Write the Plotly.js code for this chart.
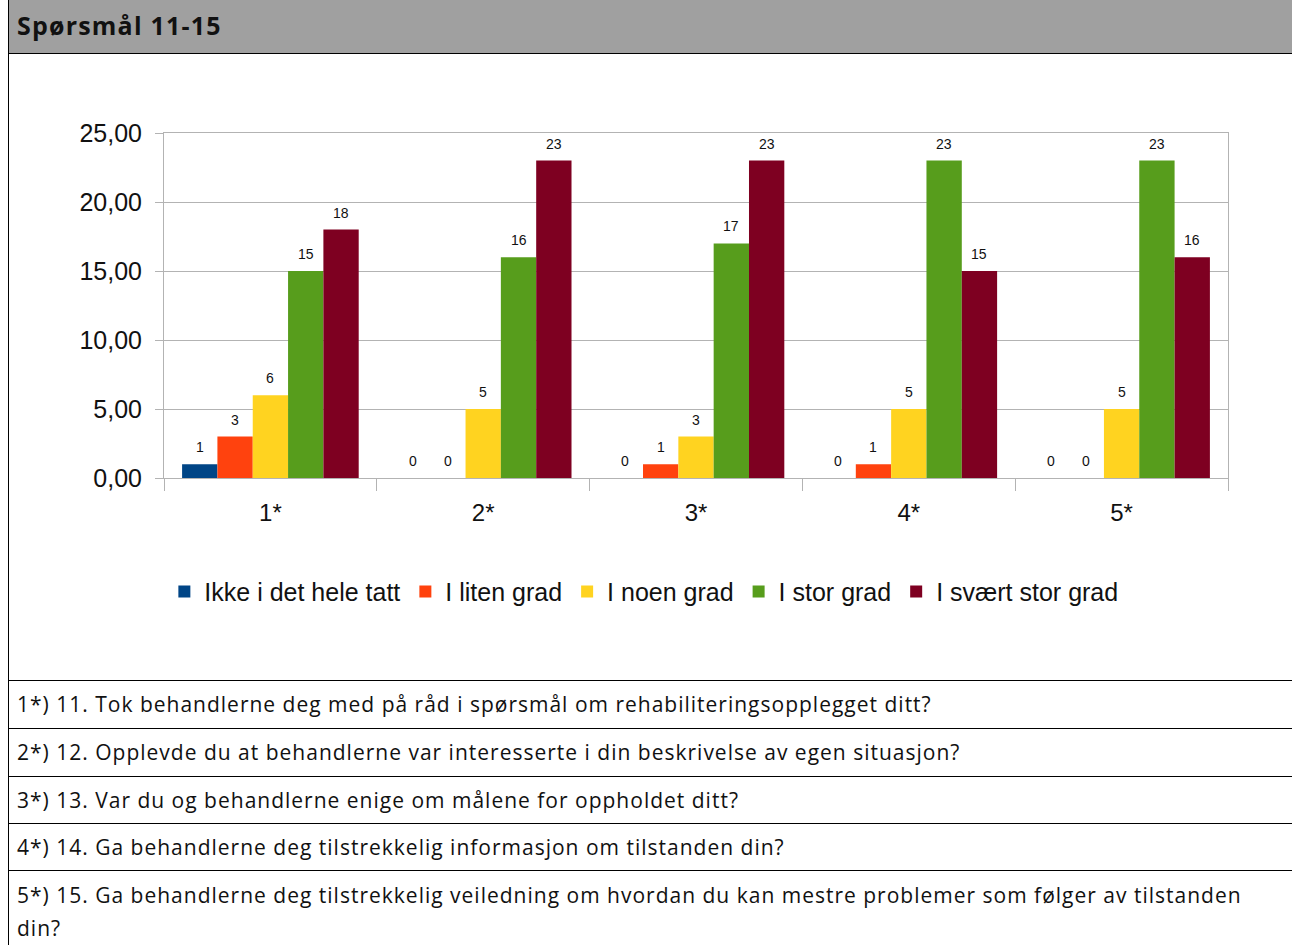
<!DOCTYPE html>
<html>
<head>
<meta charset="utf-8">
<script src="https://cdn.plot.ly/plotly-3.0.1.min.js"></script>
<style>
  html, body { margin:0; padding:0; background:#fff; }
  #page { position:relative; width:1292px; height:945px; overflow:hidden; font-family: "Open Sans", Lato, sans-serif; }
  #leftline { position:absolute; left:8px; top:0; width:1px; height:945px; background:#000; }
  #header { position:absolute; left:9px; top:0; width:1283px; height:53px; background:#a0a0a0; border-bottom:1px solid #000; }
  #header span { position:absolute; left:8px; top:8px; font-weight:bold; font-size:25px; letter-spacing:1.2px; color:#111; }
  #chart { position:absolute; left:9px; top:55px; width:1283px; height:625px; }
  .row { position:absolute; left:9px; width:1283px; border-top:1px solid #000; font-size:21px; letter-spacing:1px; color:#111; }
  .row span { position:absolute; left:8px; line-height:33px; white-space:nowrap; }
</style>
</head>
<body>
<div id="page">
  <div id="header"><span id="ttl"></span></div>
  <div id="chart"></div>
  <div id="rows"></div>
  <div id="leftline"></div>
</div>
<script>
const headerTitle = "Spørsmål 11-15";
const categories = ["1*", "2*", "3*", "4*", "5*"];
const seriesNames = ["Ikke i det hele tatt", "I liten grad", "I noen grad", "I stor grad", "I svært stor grad"];
const ikkeIDetHeleTatt = [1, 0, 0, 0, 0];
const iLitenGrad = [3, 0, 1, 1, 0];
const iNoenGrad = [6, 5, 3, 5, 5];
const iStorGrad = [15, 16, 17, 23, 23];
const iSvaertStorGrad = [18, 23, 23, 15, 16];
const seriesColors = ["#004586", "#ff420e", "#ffd320", "#579d1c", "#7e0021"];
const questions = [
  "1*) 11. Tok behandlerne deg med på råd i spørsmål om rehabiliteringsopplegget ditt?",
  "2*) 12. Opplevde du at behandlerne var interesserte i din beskrivelse av egen situasjon?",
  "3*) 13. Var du og behandlerne enige om målene for oppholdet ditt?",
  "4*) 14. Ga behandlerne deg tilstrekkelig informasjon om tilstanden din?",
  "5*) 15. Ga behandlerne deg tilstrekkelig veiledning om hvordan du kan mestre problemer som følger av tilstanden<br>din?"
];

document.getElementById("ttl").textContent = headerTitle;

const rowTops = [680, 728, 776, 823, 870];
const rowsDiv = document.getElementById("rows");
questions.forEach((q, i) => {
  const d = document.createElement("div");
  d.className = "row";
  d.style.top = rowTops[i] + "px";
  d.style.height = (i < 4 ? rowTops[i+1] - rowTops[i] : 945 - rowTops[i]) + "px";
  const s = document.createElement("span");
  s.style.top = (i < 4 ? 7 : 8) + "px";
  s.innerHTML = q;
  d.appendChild(s);
  rowsDiv.appendChild(d);
});

const allValues = [ikkeIDetHeleTatt, iLitenGrad, iNoenGrad, iStorGrad, iSvaertStorGrad];
const traces = allValues.map((vals, i) => ({
  type: "bar",
  name: seriesNames[i],
  x: categories,
  y: vals,
  marker: { color: seriesColors[i] },
  hoverinfo: "skip"
}));

const plotW = 1064;
const bargap = 0.17;
const barPx = plotW / categories.length * (1 - bargap) / allValues.length;
const annotations = [];
allValues.forEach((vals, i) => {
  vals.forEach((v, j) => {
    annotations.push({
      x: categories[j], y: v, xref: "x", yref: "y",
      text: String(v), showarrow: false,
      xshift: (i - (allValues.length - 1) / 2) * barPx,
      yshift: 17, yanchor: "middle",
      font: { family: "Liberation Sans, Arial, sans-serif", size: 14, color: "#111" }
    });
  });
});

const layout = {
  width: 1283,
  height: 625,
  margin: { l: 155, r: 64, t: 78, b: 202 },
  paper_bgcolor: "rgba(0,0,0,0)",
  plot_bgcolor: "#fff",
  separators: ", ",
  barmode: "group",
  bargap: bargap,
  bargroupgap: 0,
  font: { family: "Liberation Sans, Arial, sans-serif", color: "#111" },
  showlegend: true,
  annotations: annotations,
  legend: {
    orientation: "h",
    x: 0.451, xanchor: "center",
    y: -0.33, yanchor: "middle",
    font: { size: 25, family: "Liberation Sans, Arial, sans-serif", color: "#111" },
    itemwidth: 30,
    traceorder: "normal"
  },
  xaxis: {
    type: "category",
    tickson: "boundaries",
    ticks: "outside",
    ticklen: 12,
    tickcolor: "#b3b3b3",
    showline: true,
    linecolor: "#b3b3b3",
    mirror: true,
    tickfont: { size: 24, color: "#111" },
    ticklabelstandoff: 13,
    showgrid: false,
    fixedrange: true
  },
  yaxis: {
    range: [0, 25],
    dtick: 5,
    tickformat: ".2f",
    ticks: "outside",
    ticklen: 8,
    tickcolor: "#b3b3b3",
    showline: true,
    linecolor: "#b3b3b3",
    mirror: true,
    gridcolor: "#b3b3b3",
    zeroline: false,
    tickfont: { size: 25, color: "#111" },
    ticklabelstandoff: 8,
    fixedrange: true
  }
};

Plotly.newPlot("chart", traces, layout, { displayModeBar: false, staticPlot: true });
</script>
</body>
</html>
